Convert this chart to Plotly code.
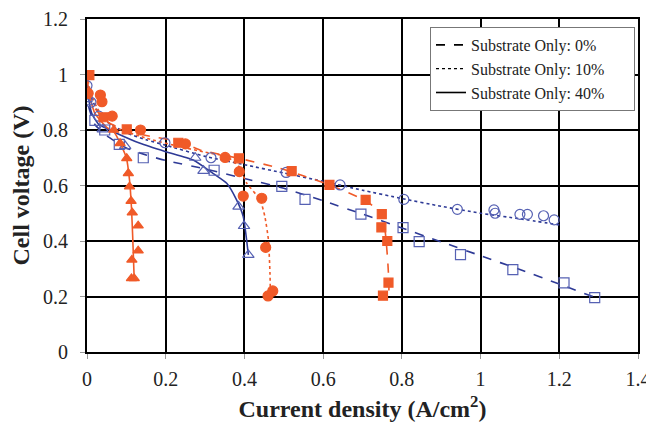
import plotly.graph_objects as go

# ---- data ----
b_sq_x = [0.0, 0.02, 0.045, 0.082, 0.143, 0.323, 0.495, 0.554, 0.696, 0.803, 0.844, 0.949, 1.082, 1.212, 1.29]
b_sq_y = [0.92, 0.835, 0.80, 0.748, 0.70, 0.655, 0.597, 0.55, 0.497, 0.448, 0.398, 0.351, 0.297, 0.249, 0.196]
b_ci_x = [0.0, 0.01, 0.03, 0.198, 0.315, 0.506, 0.643, 0.805, 0.941, 1.034, 1.037, 1.1, 1.119, 1.16, 1.187]
b_ci_y = [0.96, 0.9, 0.85, 0.754, 0.70, 0.647, 0.602, 0.55, 0.514, 0.512, 0.50, 0.496, 0.496, 0.491, 0.476]
b_tr_x = [0.0, 0.04, 0.097, 0.275, 0.296, 0.385, 0.399, 0.41]
b_tr_y = [0.9, 0.802, 0.742, 0.70, 0.653, 0.524, 0.454, 0.35]
o_sq_x = [0.006, 0.042, 0.101, 0.232, 0.386, 0.52, 0.616, 0.708, 0.749, 0.748, 0.763, 0.766, 0.752]
o_sq_y = [0.998, 0.846, 0.802, 0.754, 0.698, 0.652, 0.602, 0.548, 0.497, 0.449, 0.40, 0.25, 0.203]
o_ci_x = [0.003, 0.034, 0.038, 0.064, 0.136, 0.25, 0.351, 0.387, 0.397, 0.444, 0.454, 0.472, 0.46]
o_ci_y = [0.932, 0.926, 0.902, 0.85, 0.80, 0.75, 0.701, 0.65, 0.562, 0.554, 0.377, 0.22, 0.202]
o_tr_x = [0.068, 0.084, 0.101, 0.105, 0.108, 0.112, 0.115, 0.13, 0.13, 0.114, 0.113, 0.12]
o_tr_y = [0.80, 0.752, 0.698, 0.644, 0.596, 0.544, 0.502, 0.455, 0.365, 0.332, 0.265, 0.265]

# fitted curves
b_dash_x = [0.0, 0.005, 0.02, 0.05, 0.1, 0.15, 0.2, 0.3, 0.4, 0.5, 0.6, 0.7, 0.8, 0.9, 1.0, 1.1, 1.2, 1.29]
b_dash_y = [0.95, 0.88, 0.82, 0.78, 0.735, 0.71, 0.69, 0.66, 0.625, 0.59, 0.545, 0.497, 0.447, 0.397, 0.347, 0.297, 0.245, 0.197]
b_dot_x = [0.0, 0.01, 0.03, 0.05, 0.1, 0.15, 0.2, 0.3, 0.4, 0.5, 0.6, 0.7, 0.8, 0.9, 1.0, 1.1, 1.2]
b_dot_y = [0.98, 0.92, 0.86, 0.83, 0.79, 0.765, 0.745, 0.705, 0.675, 0.645, 0.615, 0.583, 0.553, 0.525, 0.5, 0.48, 0.458]
b_sol_x = [0.0, 0.003, 0.012, 0.03, 0.067, 0.135, 0.2, 0.27, 0.32, 0.355, 0.38, 0.397, 0.41]
b_sol_y = [1.0, 0.93, 0.86, 0.82, 0.794, 0.752, 0.722, 0.692, 0.644, 0.608, 0.548, 0.488, 0.35]
o_dash_x = [0.0, 0.01, 0.05, 0.1, 0.15, 0.236, 0.287, 0.386, 0.49, 0.616, 0.708, 0.749, 0.758, 0.764, 0.767, 0.767]
o_dash_y = [1.0, 0.9, 0.83, 0.80, 0.78, 0.758, 0.728, 0.698, 0.662, 0.602, 0.545, 0.497, 0.43, 0.33, 0.25, 0.2]
o_dot_x = [0.0, 0.01, 0.03, 0.067, 0.152, 0.236, 0.3, 0.355, 0.385, 0.406, 0.44, 0.452, 0.461, 0.465, 0.466]
o_dot_y = [1.0, 0.93, 0.87, 0.812, 0.77, 0.74, 0.72, 0.704, 0.67, 0.608, 0.548, 0.488, 0.404, 0.28, 0.2]
o_sol_x = [0.0, 0.005, 0.02, 0.05, 0.07, 0.085, 0.1, 0.108, 0.113, 0.116, 0.118, 0.12]
o_sol_y = [1.0, 0.93, 0.86, 0.81, 0.79, 0.75, 0.70, 0.62, 0.52, 0.42, 0.34, 0.26]

legend_names = ["Substrate Only: 0%", "Substrate Only: 10%", "Substrate Only: 40%"]

BLUE_L = "#2e3a96"
BLUE_M = "#5661b3"
ORANGE = "#f05a28"

fig = go.Figure()

def line(x, y, color, dash, width=1.6):
    fig.add_trace(go.Scatter(x=x, y=y, mode="lines", line=dict(color=color, dash=dash, width=width,
                                                                  shape="spline", smoothing=0.5),
                             showlegend=False, hoverinfo="skip"))

def pts(x, y, symbol, color, size):
    fig.add_trace(go.Scatter(x=x, y=y, mode="markers", showlegend=False,
                             marker=dict(symbol=symbol, size=size, color=color,
                                         line=dict(color=color, width=1.2))))

line(b_dash_x, b_dash_y, BLUE_L, "dash")
line(b_dot_x, b_dot_y, BLUE_L, "dot")
line(b_sol_x, b_sol_y, BLUE_L, "solid")
line(o_dash_x, o_dash_y, ORANGE, "dash")
line(o_dot_x, o_dot_y, ORANGE, "dot")
line(o_sol_x, o_sol_y, ORANGE, "solid")

pts(b_sq_x, b_sq_y, "square-open", BLUE_M, 10)
pts(b_ci_x, b_ci_y, "circle-open", BLUE_M, 10)
pts(b_tr_x, b_tr_y, "triangle-up-open", BLUE_M, 10)
pts(o_sq_x, o_sq_y, "square", ORANGE, 9)
pts(o_ci_x, o_ci_y, "circle", ORANGE, 10)
pts(o_tr_x, o_tr_y, "triangle-up", ORANGE, 9)

for name, dash in zip(legend_names, ["dash", "dot", "solid"]):
    fig.add_trace(go.Scatter(x=[None], y=[None], mode="lines", name=name + "\u00a0" * 6,
                             line=dict(color="black", dash=dash, width=1.6 if dash != "dot" else 1.2)))

axis_common = dict(showgrid=True, gridcolor="black", gridwidth=2, zeroline=False,
                   showline=True, linecolor="black", linewidth=2, mirror=True,
                   ticks="outside", tickcolor="#999999", ticklen=5, tickwidth=1,
                   automargin=False,
                   tickfont=dict(family="Liberation Serif", size=20, color="#222222"))

# the page body has an 8px default margin, so the figure is sized to fit inside it
fig.update_layout(
    width=646, height=415,
    margin=dict(l=79, r=16, t=11, b=71, autoexpand=False),
    paper_bgcolor="white", plot_bgcolor="white",
    xaxis=dict(range=[0, 1.4], dtick=0.2, tickformat="~g", ticklabelstandoff=3,
               title=dict(text="<b>Current density (A/cm<sup>2</sup>)</b>",
                          font=dict(family="Liberation Serif", size=24, color="#222222"), standoff=11),
               **axis_common),
    yaxis=dict(range=[0, 1.2], dtick=0.2, tickformat="~g", ticklabelstandoff=8,
               title=dict(text="<b>Cell voltage (V)</b>",
                          font=dict(family="Liberation Serif", size=24, color="#222222"), standoff=7),
               **axis_common),
    legend=dict(x=0.6225, y=0.976, xanchor="left", yanchor="top",
                bgcolor="white", bordercolor="#777777", borderwidth=1,
                font=dict(family="Liberation Serif", size=16, color="#222222")),
    showlegend=True,
)

fig.write_html("out.html")
